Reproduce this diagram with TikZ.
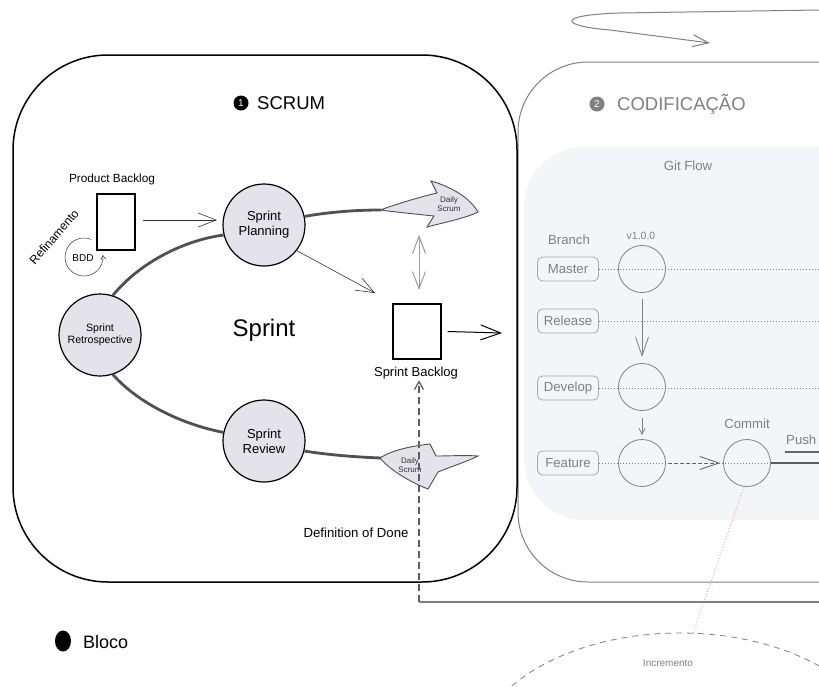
\documentclass[tikz,border=0pt]{standalone}
\usepackage{fontspec}
\setmainfont{Liberation Sans}
\usetikzlibrary{arrows.meta}
\definecolor{procfill}{HTML}{E4E3EC}
\definecolor{flowc}{HTML}{4B5158}
\definecolor{gitgray}{HTML}{808080}
\definecolor{boxgray}{HTML}{A8A8A8}
\definecolor{panelc}{HTML}{F4F5F9}
\definecolor{salmon}{HTML}{F2A584}
\definecolor{darkline}{HTML}{333333}
\begin{document}
\begin{tikzpicture}[x=1pt,y=-1pt,
  proc/.style={circle,draw=black,line width=1.2pt,fill=procfill,minimum size=82pt,inner sep=0pt,align=center,font=\fontsize{13}{15}\selectfont},
  smallproc/.style={proc,font=\fontsize{10.6}{12.5}\selectfont},
  docbox/.style={draw=black,line width=1.2pt,fill=white,inner sep=0pt},
  vee/.style={-{Straight Barb[length=18pt,width=14pt]}},
  flowline/.style={draw=flowc,line width=2.8pt},
  dailyshape/.style={draw=flowc,line width=0.9pt,fill=procfill},
  dailytxt/.style={font=\fontsize{8}{9}\selectfont,align=center,inner sep=0pt,text=darkline},
  branchbox/.style={draw=boxgray,rounded corners=5pt,minimum width=61pt,minimum height=24pt,text=gitgray,font=\fontsize{13.2}{15}\selectfont,inner sep=0pt,line width=0.8pt},
  commitc/.style={circle,draw=gitgray,minimum size=47pt,inner sep=0pt,line width=0.8pt},
  lane/.style={draw=gitgray,dotted,line width=1pt},
  gtxt/.style={text=gitgray,font=\fontsize{13.2}{15}\selectfont,inner sep=0pt},
  numc/.style={circle,inner sep=0pt,minimum size=15pt,text=white,font=\fontsize{10}{10}\selectfont},
  titletxt/.style={anchor=west,inner sep=0pt,font=\fontsize{18.5}{22}\selectfont}
]
\path[use as bounding box] (0,0) rectangle (819,686);
\clip (0,0) rectangle (819,686);
\fill[white] (0,0) rectangle (819,686);

% ---------- top loop arrow ----------
\coordinate (loopstart) at (819,10);
\coordinate (loopend) at (710,43);
\draw[gitgray,line width=1pt,-{Straight Barb[length=16pt,width=12pt]}] (loopstart) -- (620,13) .. controls (555,15) and (560,26) .. (610,30) -- (loopend);

% ---------- CODIFICACAO block ----------
\draw[gitgray,line width=1pt,rounded corners=70pt] (518,62) rectangle (960,582);
\fill[panelc,rounded corners=60pt] (524,147) rectangle (960,520);
\node[numc,fill=gitgray] (n2) at (597,104) {2};
\node[titletxt,text=gitgray] (codtitle) at (617,104) {CODIFICAÇÃO};
\node[gtxt] (gitflow) at (688,166) {Git Flow};
\node[gtxt] (branchlbl) at (569,240) {Branch};
\node[gtxt,font=\fontsize{10.5}{12}\selectfont] (ver) at (641,236) {v1.0.0};

\node[branchbox] (master) at (568,269) {Master};
\node[branchbox] (release) at (568,321) {Release};
\node[branchbox] (develop) at (568,388) {Develop};
\node[branchbox] (feature) at (568,463) {Feature};

\coordinate (mend) at (819,269);
\coordinate (rend) at (819,321);
\coordinate (dend) at (819,388);
\coordinate (fend) at (819,463);
\draw[lane] (master.east) -- (mend);
\draw[lane] (release.east) -- (rend);
\draw[lane] (develop.east) -- (dend);
\draw[lane] (feature.east) -- (fend);

\node[commitc] (cm) at (642,269) {};
\node[commitc] (cd) at (642,387) {};
\node[commitc] (cf) at (642,463) {};
\node[commitc] (cc) at (747,463) {};

\draw[gitgray,line width=0.8pt,-{Straight Barb[length=19pt,width=13pt]}] ([yshift=-6pt]cm.south) -- ([yshift=6pt]cd.north);
\draw[gitgray,line width=0.8pt,-{Straight Barb[length=6pt,width=6pt]}] ([yshift=-7pt]cd.south) -- ([yshift=4pt]cf.north);
\draw[darkline!80,line width=0.8pt,dashed,-{Straight Barb[length=19pt,width=13pt]}] ([xshift=3pt]cf.east) -- ([xshift=-3pt]cc.west);

\node[gtxt] (commitlbl) at (747,424) {Commit};
\node[gtxt,anchor=west] (pushlbl) at (786,440) {Push};
\coordinate (pushend) at (819,452);
\coordinate (pushstart) at (785,452);
\draw[gitgray!80!black,line width=1.3pt] (pushstart) -- (pushend);
\draw[darkline!80,line width=1.3pt] (cc.east) -- (fend);

% increment
\coordinate (inctop) at (693,633);
\draw[salmon,dotted,line width=0.9pt] ([xshift=-3pt]cc.south) -- (inctop);
\draw[gitgray,line width=0.8pt,dash pattern=on 6pt off 5pt] (680,760) ellipse [x radius=207pt,y radius=127pt];
\node[gtxt,font=\fontsize{10}{11}\selectfont] (incr) at (668,663) {Incremento};

% ---------- SCRUM block ----------
\draw[black,line width=1.5pt,rounded corners=95pt] (13,55) rectangle (517,582);
\node[numc,fill=black] (n1) at (241,103) {1};
\node[titletxt] (scrumtitle) at (257,103) {SCRUM};

% DoD line
\coordinate (dodcorner) at (419,602);
\coordinate (dodend) at (819,602);
\draw[gitgray,line width=1.2pt] (dodcorner) -- (dodend);

% process circles
\node[smallproc] (retro) at (100,335) {Sprint\\Retrospective};
\node[proc] (plan) at (264,225) {Sprint\\Planning};
\node[proc] (review) at (264,441) {Sprint\\Review};
\coordinate (ds1tail) at (381,210);
\coordinate (ds2nose) at (381,458);
\draw[flowline] (retro.72) .. controls (140,262) and (185,240) .. (plan.194);
\draw[flowline] (plan.12) .. controls (330,212) and (355,210) .. (ds1tail);
\draw[flowline] (retro.-72) .. controls (140,405) and (185,425) .. (review.168);
\draw[flowline] (review.-14) .. controls (330,455) and (355,457) .. (ds2nose);

% daily scrum shapes
\draw[dailyshape] (380,210) .. controls (400,203) and (420,197) .. (437,193) -- (431,181)
  .. controls (452,187) and (470,198) .. (478,212)
  .. controls (466,218) and (446,222) .. (427,227) -- (434,216)
  .. controls (415,214) and (395,212) .. (380,210) -- cycle;
\node[dailytxt] (daily1) at (449,204) {Daily\\Scrum};
\draw[dailyshape] (380,458) .. controls (392,450) and (412,446) .. (430,444) -- (436,456)
  .. controls (450,456) and (465,455) .. (478,456)
  .. controls (466,462) and (450,467) .. (438,472) -- (428,489)
  .. controls (410,482) and (390,470) .. (380,458) -- cycle;
\node[dailytxt] (daily2) at (410,465) {Daily\\Scrum};

% product backlog
\node[font=\fontsize{11.8}{13}\selectfont] (pblbl) at (112,179) {Product Backlog};
\node[docbox,minimum width=38pt,minimum height=56pt] (pb) at (116,222) {};
\coordinate (pbarrowstart) at (143,220);
\coordinate (pbarrowend) at (217,220);
\draw[darkline,line width=0.6pt,vee] (pbarrowstart) -- (pbarrowend);
\node[rotate=49,font=\fontsize{12}{13}\selectfont,inner sep=0pt] (refin) at (54,237) {Refinamento};
\node[font=\fontsize{10}{11}\selectfont,inner sep=0pt] (bdd) at (83,258) {BDD};
\begin{scope}[shift={(84,257)},yscale=-1]
\draw[darkline,line width=0.5pt,-{Straight Barb[length=4pt,width=5pt]}] (68:19) arc[start angle=68,end angle=366,radius=19];
\end{scope}

% sprint backlog
\node[docbox,minimum width=48pt,minimum height=55pt] (sb) at (417,331.5) {};
\node[font=\fontsize{13}{15}\selectfont,inner sep=1pt] (sblbl) at (416,373) {Sprint Backlog};
\node[font=\fontsize{24}{28}\selectfont] (sprint) at (264,330) {Sprint};
\node[font=\fontsize{13.2}{15}\selectfont] (dod) at (356,533) {Definition of Done};

\coordinate (sbout) at (502,333);
\coordinate (plantarget) at (375,293);
\coordinate (dstop) at (419,235);
\coordinate (dsbottom) at (419,290);
\draw[black,line width=1pt,-{Straight Barb[length=20pt,width=15pt]}] ([xshift=6pt]sb.east) -- (sbout);
\draw[darkline,line width=0.6pt,vee] (plan.-38) -- (plantarget);
\draw[gitgray!80,line width=1pt,{Straight Barb[length=17pt,width=13pt]}-{Straight Barb[length=17pt,width=13pt]}] (dstop) -- (dsbottom);
\draw[darkline!80,line width=1.3pt,dash pattern=on 7pt off 4pt,-{Straight Barb[length=8pt,width=9pt]}] (dodcorner) -- (sblbl.south -| dodcorner);

% legend
\fill[black] (63,641) ellipse [x radius=8pt,y radius=10.5pt];
\node[anchor=west,font=\fontsize{18}{20}\selectfont,inner sep=0pt] (bloco) at (83,642) {Bloco};
\end{tikzpicture}
\end{document}
